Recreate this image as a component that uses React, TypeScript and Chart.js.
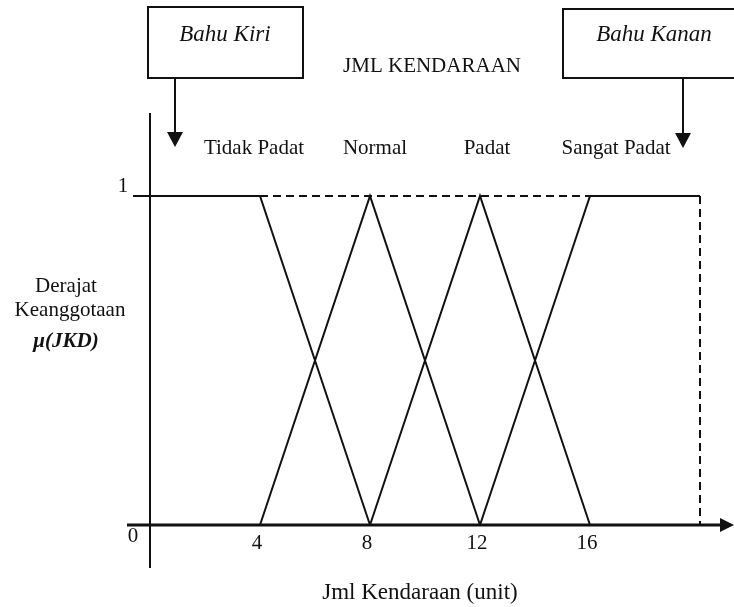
import React, { useEffect, useRef } from 'react';
import { Chart, registerables } from 'chart.js';

Chart.register(...registerables);

// ---- data ----
const categories = ['Tidak Padat', 'Normal', 'Padat', 'Sangat Padat'];
const tidakPadatX = [0, 4, 8];
const tidakPadatY = [1, 1, 0];
const normalX = [4, 8, 12];
const normalY = [0, 1, 0];
const padatX = [8, 12, 16];
const padatY = [0, 1, 0];
const sangatPadatX = [12, 16, 20];
const sangatPadatY = [0, 1, 1];
const dashedTopX = [4, 16];
const dashedTopY = [1, 1];
const dashedRightX = [20, 20];
const dashedRightY = [1, 0];

const xTickValues = [4, 8, 12, 16];
const xTickLabels = ['4', '8', '12', '16'];
const originLabel = '0';
const yTopValue = 1;
const yTopLabel = '1';

const chartTitle = 'JML KENDARAAN';
const xTitle = 'Jml Kendaraan (unit)';
const yTitleLines = ['Derajat', 'Keanggotaan', 'μ(JKD)'];
const shoulderLabels = ['Bahu Kiri', 'Bahu Kanan'];

// ---- style / layout ----
const INK = '#111111';
const SERIF = "'Liberation Serif', 'Times New Roman', serif";
const categoryLabelPx = [254, 375, 487, 616];

const toPoints = (xs: number[], ys: number[]) => xs.map((x, i) => ({ x, y: ys[i] }));

const decorPlugin = {
  id: 'decor',
  afterDraw(chart: any) {
    const ctx: CanvasRenderingContext2D = chart.ctx;
    const xs = chart.scales.x;
    const ys = chart.scales.y;
    const px = (v: number) => xs.getPixelForValue(v);
    const py = (v: number) => ys.getPixelForValue(v);
    const line = (x1: number, y1: number, x2: number, y2: number) => {
      ctx.beginPath();
      ctx.moveTo(x1, y1);
      ctx.lineTo(x2, y2);
      ctx.stroke();
    };
    const tri = (a: number[], b: number[], c: number[]) => {
      ctx.beginPath();
      ctx.moveTo(a[0], a[1]);
      ctx.lineTo(b[0], b[1]);
      ctx.lineTo(c[0], c[1]);
      ctx.closePath();
      ctx.fill();
    };

    ctx.save();
    ctx.strokeStyle = INK;
    ctx.fillStyle = INK;
    ctx.setLineDash([]);

    // axes
    const x0 = px(0);
    const y0 = py(0);
    const y1 = py(yTopValue);
    ctx.lineWidth = 2;
    line(x0, 113, x0, 568);
    ctx.lineWidth = 2.8;
    line(127, y0, 722, y0);
    tri([734, y0], [720, y0 - 7], [720, y0 + 7]);
    ctx.lineWidth = 2;
    line(133, y1, x0, y1);

    // tick labels
    ctx.textAlign = 'center';
    ctx.textBaseline = 'middle';
    ctx.font = `21px ${SERIF}`;
    xTickValues.forEach((v, i) => ctx.fillText(xTickLabels[i], px(v) - 3, y0 + 18));
    ctx.fillText(originLabel, x0 - 17, y0 + 11);
    ctx.fillText(yTopLabel, x0 - 27, y1 - 10);

    // category labels
    categories.forEach((c, i) => ctx.fillText(c, categoryLabelPx[i], 148));

    // title
    ctx.fillText(chartTitle, 432, 66);

    // y title
    ctx.fillText(yTitleLines[0], 66, 286);
    ctx.fillText(yTitleLines[1], 70, 310);
    ctx.font = `italic bold 21px ${SERIF}`;
    ctx.fillText(yTitleLines[2], 66, 342);

    // x title
    ctx.font = `23px ${SERIF}`;
    ctx.fillText(xTitle, 420, 593);

    // shoulder boxes
    ctx.lineWidth = 2;
    ctx.strokeRect(148, 7, 155, 71);
    ctx.strokeRect(563, 9, 180, 69);
    ctx.font = `italic 23px ${SERIF}`;
    ctx.fillText(shoulderLabels[0], 225, 35);
    ctx.fillText(shoulderLabels[1], 654, 35);

    // arrows from boxes
    ctx.lineWidth = 2;
    line(175, 78, 175, 134);
    tri([175, 147], [167, 132], [183, 132]);
    line(683, 78, 683, 135);
    tri([683, 148], [675, 133], [691, 133]);

    ctx.restore();
  },
};

export default function App() {
  const ref = useRef<HTMLCanvasElement | null>(null);

  useEffect(() => {
    if (!ref.current) return;
    const solid = (label: string, xs: number[], ys: number[]) => ({
      label,
      data: toPoints(xs, ys),
      showLine: true,
      borderColor: INK,
      borderWidth: 2,
      pointRadius: 0,
      fill: false,
      tension: 0,
    });
    const dashed = (label: string, xs: number[], ys: number[]) => ({
      ...solid(label, xs, ys),
      borderDash: [8, 5],
      borderWidth: 2,
    });
    const chart = new Chart(ref.current, {
      type: 'scatter',
      data: {
        datasets: [
          dashed('dashTop', dashedTopX, dashedTopY),
          dashed('dashRight', dashedRightX, dashedRightY),
          solid(categories[0], tidakPadatX, tidakPadatY),
          solid(categories[1], normalX, normalY),
          solid(categories[2], padatX, padatY),
          solid(categories[3], sangatPadatX, sangatPadatY),
        ] as any,
      },
      options: {
        animation: false,
        responsive: false,
        devicePixelRatio: 1,
        layout: { padding: { left: 122.5, right: 6.5, top: 97.3, bottom: 16.2 } },
        plugins: { legend: { display: false }, tooltip: { enabled: false } },
        scales: {
          x: { type: 'linear', min: -1, max: 21, display: false },
          y: { type: 'linear', min: -0.2, max: 1.3, display: false },
        },
      },
      plugins: [decorPlugin],
    });
    return () => chart.destroy();
  }, []);

  return (
    <canvas
      ref={ref}
      width={734}
      height={607}
      style={{ position: 'absolute', left: 0, top: 0, width: 734, height: 607, background: '#fff' }}
    />
  );
}
